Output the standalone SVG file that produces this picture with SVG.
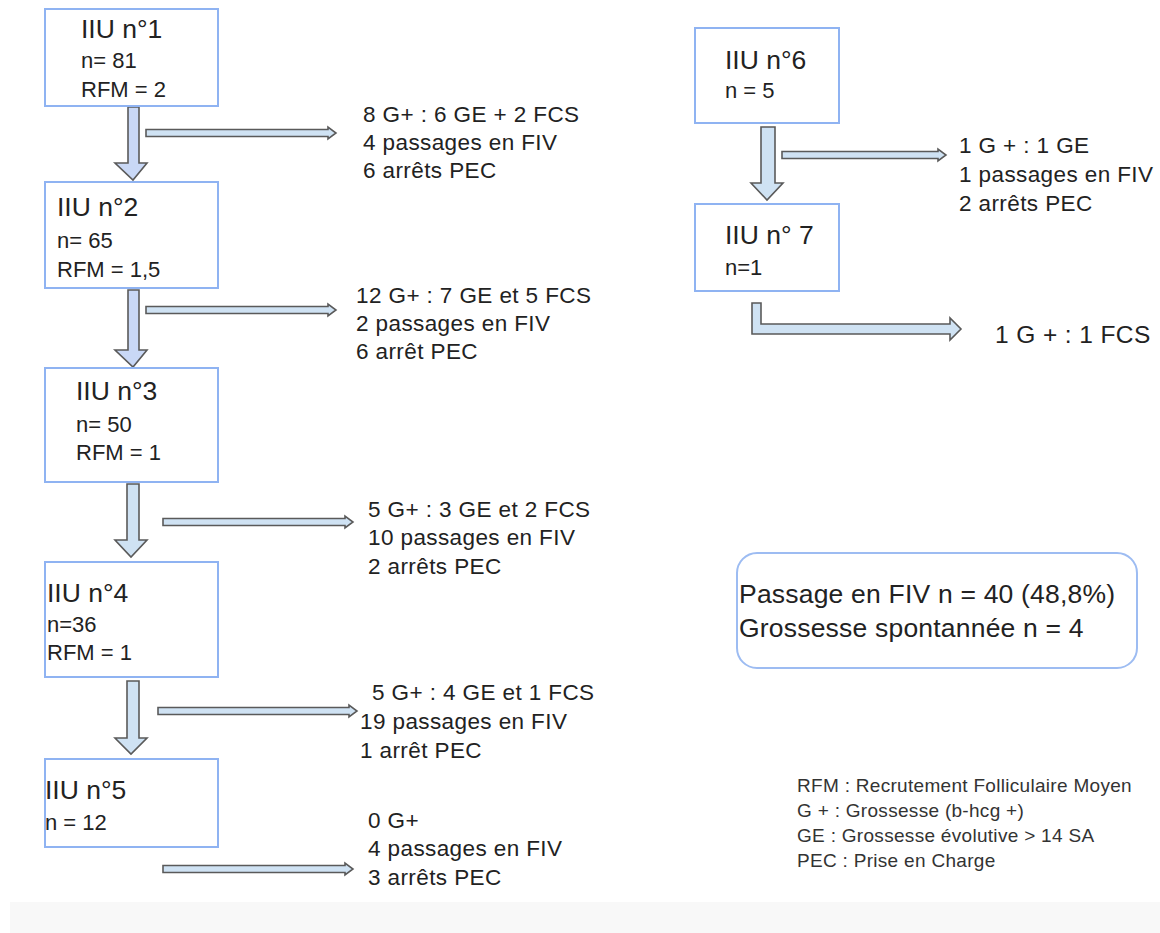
<svg xmlns="http://www.w3.org/2000/svg" width="1160" height="933" viewBox="0 0 1160 933">
<style>
.box{fill:#fff;stroke:#8fb3f2;stroke-width:2}
.sum{fill:#fff;stroke:#9dbcf2;stroke-width:2}
.t{font-family:"Liberation Sans",Arial,sans-serif;fill:#222}
.title{font-size:26.5px}
.sub{font-size:22px}
.blk{font-size:22.5px;letter-spacing:0.4px}
.leg{font-size:19px;fill:#333;letter-spacing:0.3px}
.big{font-size:24.5px;letter-spacing:0.4px}
.sumt{font-size:26.5px;letter-spacing:0.2px}
.arrA{fill:#c9d8f6;stroke:#5a5a5a;stroke-width:1.6;stroke-linejoin:miter}
.arrB{fill:#cfe2f3;stroke:#5a5a5a;stroke-width:1.6;stroke-linejoin:miter}
</style>
<rect x="10" y="902" width="1150" height="31" fill="#f8f8f8"/>
<g id="connectors">
<path class="arrA" d="M128 107H139V163H147L133 180L115 163H128Z"/>
<path class="arrB" d="M146 129.5H328V127L336 133L328 139V136.5H146Z"/>
<path class="arrA" d="M128 290H139V350H147L133 367L115 350H128Z"/>
<path class="arrB" d="M146 306.5H328V304L336 310L328 316V313.5H146Z"/>
<path class="arrB" d="M127 484H139V540H147L131 557L115 540H127Z"/>
<path class="arrB" d="M163 518.5H345V516L353 522L345 528V525.5H163Z"/>
<path class="arrB" d="M127 681H139V738H147L131 754L115 738H127Z"/>
<path class="arrB" d="M158 707.5H349V705L357 711L349 717V714.5H158Z"/>
<path class="arrB" d="M163 865.5H345V863L353 869L345 875V872.5H163Z"/>
<path class="arrB" d="M761 127H775V183H783L767 200L751 183H761Z"/>
<path class="arrB" d="M782 151.5H938V149L946 155L938 161V158.5H782Z"/>
<path class="arrB" d="M752 303H761V324H950V318L961 329L950 340V334H752Z"/>
</g>
<g id="n1"><rect class="box" x="45" y="9" width="173" height="97"/>
<text class="t title" x="81" y="38">IIU n°1</text>
<text class="t sub" x="81" y="68">n= 81</text>
<text class="t sub" x="81" y="97">RFM = 2</text></g>
<g id="n2"><rect class="box" x="45" y="182" width="173" height="106"/>
<text class="t title" x="57" y="216">IIU n°2</text>
<text class="t sub" x="57" y="248">n= 65</text>
<text class="t sub" x="57" y="277">RFM = 1,5</text></g>
<g id="n3"><rect class="box" x="45" y="368" width="173" height="114"/>
<text class="t title" x="76" y="400">IIU n°3</text>
<text class="t sub" x="76" y="432">n= 50</text>
<text class="t sub" x="76" y="460">RFM = 1</text></g>
<g id="n4"><rect class="box" x="45" y="562" width="173" height="115"/>
<text class="t title" x="47" y="602">IIU n°4</text>
<text class="t sub" x="47" y="632">n=36</text>
<text class="t sub" x="47" y="660">RFM = 1</text></g>
<g id="n5"><rect class="box" x="45" y="759" width="173" height="88"/>
<text class="t title" x="45" y="799">IIU n°5</text>
<text class="t sub" x="45" y="830">n = 12</text></g>
<g id="n6"><rect class="box" x="695" y="28" width="144" height="95"/>
<text class="t title" x="725" y="69">IIU n°6</text>
<text class="t sub" x="725" y="98">n = 5</text></g>
<g id="n7"><rect class="box" x="695" y="204" width="144" height="87"/>
<text class="t title" x="725" y="244">IIU n° 7</text>
<text class="t sub" x="725" y="275">n=1</text></g>
<g id="r1"><text class="t blk" x="363" y="122">8 G+ : 6 GE + 2 FCS</text>
<text class="t blk" x="363" y="150">4 passages en FIV</text>
<text class="t blk" x="363" y="178">6 arrêts PEC</text></g>
<g id="r2"><text class="t blk" x="356" y="303">12 G+ : 7 GE et 5 FCS</text>
<text class="t blk" x="356" y="331">2 passages en FIV</text>
<text class="t blk" x="356" y="359">6 arrêt PEC</text></g>
<g id="r3"><text class="t blk" x="368" y="517">5 G+ : 3 GE et 2 FCS</text>
<text class="t blk" x="368" y="545">10 passages en FIV</text>
<text class="t blk" x="368" y="574">2 arrêts PEC</text></g>
<g id="r4"><text class="t blk" x="372" y="700">5 G+ : 4 GE et 1 FCS</text>
<text class="t blk" x="360" y="729">19 passages en FIV</text>
<text class="t blk" x="360" y="758">1 arrêt PEC</text></g>
<g id="r5"><text class="t blk" x="368" y="828">0 G+</text>
<text class="t blk" x="368" y="856">4 passages en FIV</text>
<text class="t blk" x="368" y="885">3 arrêts PEC</text></g>
<g id="r6"><text class="t blk" x="959" y="153">1 G + : 1 GE</text>
<text class="t blk" x="959" y="182">1 passages en FIV</text>
<text class="t blk" x="959" y="211">2 arrêts PEC</text></g>
<g id="r7"><text class="t big" x="995" y="343">1 G + : 1 FCS</text></g>
<g id="summary"><rect class="sum" x="737" y="553" width="400" height="115" rx="20"/>
<text class="t sumt" x="739" y="603">Passage en FIV n = 40 (48,8%)</text>
<text class="t sumt" x="739" y="637">Grossesse spontannée n = 4</text></g>
<g id="legend">
<text class="t leg" x="797" y="792">RFM : Recrutement Folliculaire Moyen</text>
<text class="t leg" x="797" y="817">G + : Grossesse (b-hcg +)</text>
<text class="t leg" x="797" y="842">GE : Grossesse évolutive &gt; 14 SA</text>
<text class="t leg" x="797" y="867">PEC : Prise en Charge</text>
</g>
</svg>
